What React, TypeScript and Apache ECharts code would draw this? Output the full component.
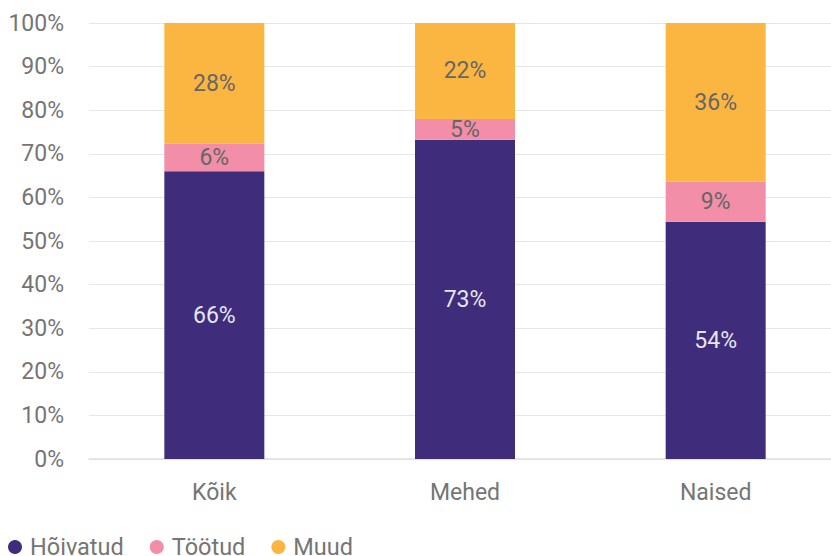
import React, { useEffect, useRef } from "react";
import * as echarts from "echarts";

const categories = ["Kõik", "Mehed", "Naised"];
const seriesNames = ["Hõivatud", "Töötud", "Muud"];
const hoivatud = [66.0, 73.2, 54.4];
const tootud = [6.3, 4.8, 9.2];
const muud = [27.7, 22.0, 36.4];
const yTicks = [0, 10, 20, 30, 40, 50, 60, 70, 80, 90, 100];

const colors = ["#3f2d7c", "#f28ea8", "#fbb641"];
const labelColors = ["#e6e6ee", "#666666", "#666666"];
const FONT = "Roboto";

export default function App() {
  const ref = useRef<HTMLDivElement>(null);
  useEffect(() => {
    document.body.style.margin = "0";
    document.body.style.overflow = "hidden";
    if (!ref.current) return;
    const chart = echarts.init(ref.current, null, { renderer: "svg" });
    const datas = [hoivatud, tootud, muud];
    chart.setOption({
      animation: false,
      textStyle: { fontFamily: FONT },
      grid: { left: 89, top: 23, right: 0, height: 436, containLabel: false },
      legend: {
        left: 8,
        top: 535,
        padding: 0,
        icon: "circle",
        itemWidth: 14,
        itemHeight: 14,
        itemGap: 26,
        textStyle: {
          fontSize: 23.5,
          color: "#757575",
          fontFamily: FONT,
          padding: [0, 0, 0, 3],
        },
        data: seriesNames,
      },
      xAxis: {
        type: "category",
        data: categories,
        axisTick: { show: false },
        axisLine: { lineStyle: { color: "#e0e0e0", width: 1.5 } },
        axisLabel: { fontSize: 23, color: "#757575", margin: 22, fontFamily: FONT },
      },
      yAxis: {
        type: "value",
        min: yTicks[0],
        max: yTicks[yTicks.length - 1],
        interval: 10,
        axisLine: { show: false },
        axisTick: { show: false },
        splitLine: { lineStyle: { color: "#e6e6e6", width: 1.2 } },
        axisLabel: {
          fontSize: 23,
          color: "#757575",
          margin: 25,
          fontFamily: FONT,
          formatter: (v: number) => v + "%",
        },
      },
      series: seriesNames.map((name, i) => ({
        name,
        type: "bar",
        stack: "total",
        barWidth: 100,
        itemStyle: { color: colors[i] },
        label: {
          show: true,
          position: "inside",
          fontSize: 23,
          color: labelColors[i],
          fontFamily: FONT,
          formatter: (p: any) => Math.round(p.value) + "%",
        },
        data: datas[i],
      })),
    });
    return () => chart.dispose();
  }, []);
  return <div ref={ref} style={{ width: 841, height: 556 }} />;
}
